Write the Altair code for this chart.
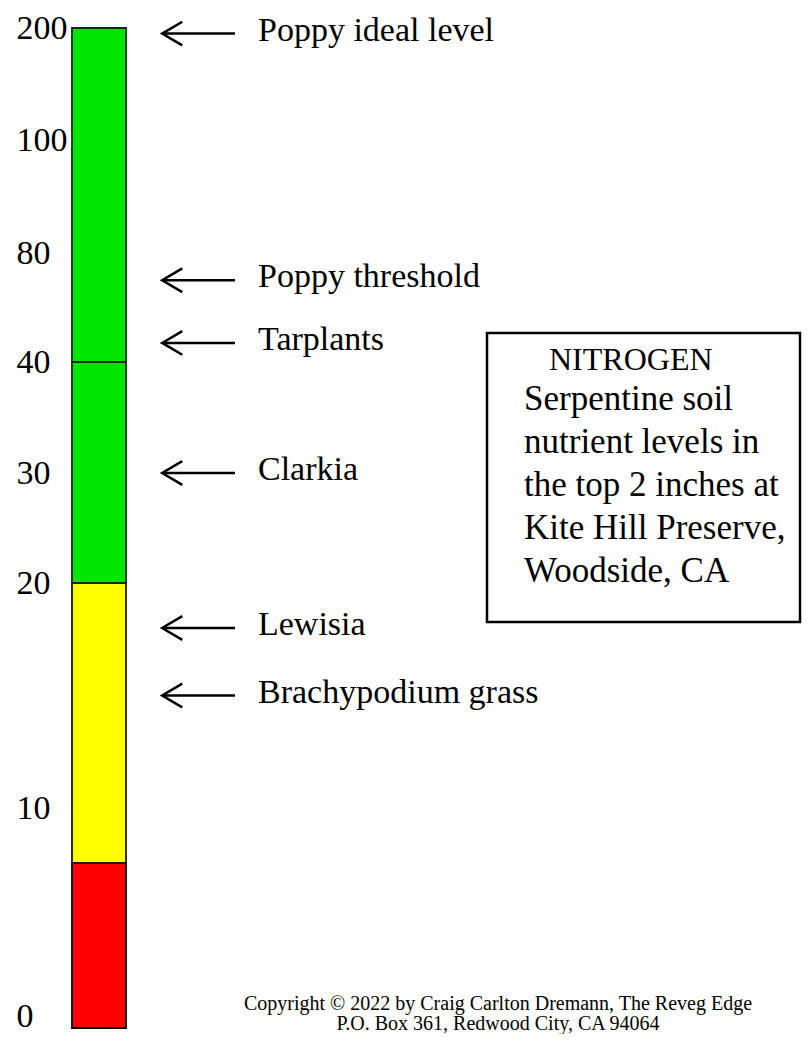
import altair as alt
import pandas as pd

# ---- data -----------------------------------------------------------------
tick_values = [0, 10, 20, 30, 40, 80, 100, 200]          # axis labels (ppm)

seg_low = [0, 7.5, 20, 40]                               # colour bands
seg_high = [7.5, 20, 40, 200]
seg_color = ["#ff0000", "#ffff00", "#00e600", "#00e600"]
seg_stroke = ["#000000", "#1a1a00", "#0b2f0b", "#0b2f0b"]

plants = ["Poppy ideal level", "Poppy threshold", "Tarplants",
          "Clarkia", "Lewisia", "Brachypodium grass"]
plant_levels = [195, 70, 47, 30, 18, 15]

box_title = "NITROGEN"
box_lines = ["Serpentine soil", "nutrient levels in", "the top 2 inches at",
             "Kite Hill Preserve,", "Woodside, CA"]
copyright_lines = ["Copyright \u00a9 2022 by Craig Carlton Dremann, The Reveg Edge",
                   "P.O. Box 361, Redwood City, CA 94064"]

# ---- layout ----------------------------------------------------------------
W, H = 730, 1006
FONT = "Liberation Serif"
# piecewise (non-linear) vertical scale used by the original gauge
y_range = [1000, 780, 555, 445, 334, 225, 112, 0]
yscale = alt.Scale(domain=tick_values, range=y_range, zero=False, nice=False)

seg_df = pd.DataFrame({"lo": seg_low, "hi": seg_high,
                       "color": seg_color, "stroke": seg_stroke})
plant_df = pd.DataFrame({"plant": plants, "level": plant_levels})

bars = alt.Chart(seg_df).mark_rect(strokeWidth=1.8).encode(
    x=alt.value(0), x2=alt.value(54),
    y=alt.Y("lo:Q", scale=yscale,
            axis=alt.Axis(values=tick_values, title=None, grid=False,
                          domain=False, ticks=False, tickSize=0,
                          labelAlign="left", labelBaseline="middle",
                          labelOffset=alt.expr("datum.value == 0 ? -12 : 0"),
                          labelPadding=56, labelFont=FONT, labelFontSize=34,
                          labelColor="black", labelOverlap=False,
                          labelFlush=False)),
    y2="hi:Q",
    fill=alt.Fill("color:N", scale=None),
    stroke=alt.Stroke("stroke:N", scale=None),
)

shafts = alt.Chart(plant_df).mark_rule(color="black", strokeWidth=2.5).encode(
    x=alt.value(91), x2=alt.value(163),
    y=alt.Y("level:Q", scale=yscale),
)

heads = alt.Chart(plant_df).mark_point(
    shape="M 0.7 -1 L -1 0 L 0.7 1", size=560, filled=False,
    stroke="black", strokeWidth=2.5, opacity=1,
).encode(
    x=alt.value(102),
    y=alt.Y("level:Q", scale=yscale),
)

labels = alt.Chart(plant_df).mark_text(
    align="left", baseline="alphabetic", dy=7, font=FONT, fontSize=34,
    color="black",
).encode(
    x=alt.value(186),
    y=alt.Y("level:Q", scale=yscale),
    text="plant:N",
)

box = alt.Chart(pd.DataFrame({"k": [0]})).mark_rect(
    fill="white", fillOpacity=0, stroke="black", strokeWidth=2.5,
).encode(
    x=alt.value(415), x2=alt.value(728),
    y=alt.value(305), y2=alt.value(594),
)

title_txt = alt.Chart(pd.DataFrame({"t": [box_title]})).mark_text(
    align="left", baseline="alphabetic", font=FONT, fontSize=32, color="black",
).encode(x=alt.value(477), y=alt.value(342), text="t:N")

body_txt = alt.Chart(pd.DataFrame({"t": ["\n".join(box_lines)]})).mark_text(
    align="left", baseline="alphabetic", font=FONT, fontSize=35,
    lineHeight=43, lineBreak="\n", color="black",
).encode(x=alt.value(452), y=alt.value(382), text="t:N")

copy_txt = alt.Chart(pd.DataFrame({"t": ["\n".join(copyright_lines)]})).mark_text(
    align="center", baseline="alphabetic", font=FONT, fontSize=20,
    lineHeight=20, lineBreak="\n", color="black",
).encode(x=alt.value(426), y=alt.value(982), text="t:N")

chart = alt.layer(
    bars, shafts, heads, labels, box, title_txt, body_txt, copy_txt
).properties(
    width=W, height=H,
    autosize=alt.AutoSizeParams(type="none"),
    padding={"left": 64, "top": 20, "right": 0, "bottom": 0},
    background="white",
).configure_view(stroke=None)

chart.save("out.html", embed_options={"renderer": "svg", "actions": False})
